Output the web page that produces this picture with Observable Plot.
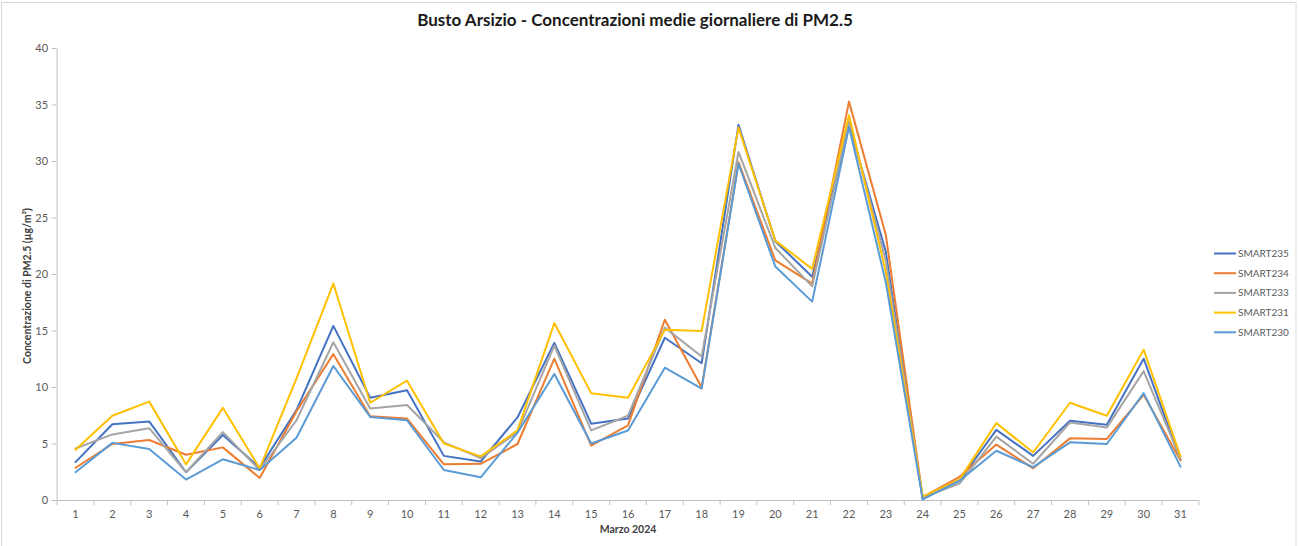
<!DOCTYPE html>
<html>
<head>
<meta charset="utf-8">
<script src="https://cdn.jsdelivr.net/npm/d3@7"></script>
<script src="https://cdn.jsdelivr.net/npm/@observablehq/plot@0.6"></script>
<style>
  body { margin: 0; background: #fff; }
  #chart { width: 1298px; height: 546px; }
</style>
</head>
<body>
<div id="chart"></div>
<script>
// Daily mean PM2.5 concentrations (µg/m³), March 2024, Busto Arsizio sensors
const days = d3.range(1, 32);
const smart235 = [3.4, 6.75, 7.0, 2.5, 5.8, 2.9, 8.0, 15.45, 9.1, 9.75, 3.95, 3.45, 7.35, 13.95, 6.8, 7.25, 14.4, 12.15, 33.25, 22.95, 19.8, 33.3, 22.0, 0.15, 1.75, 6.25, 3.95, 7.05, 6.7, 12.55, 3.6];
const smart234 = [2.9, 5.0, 5.35, 4.05, 4.7, 2.0, 7.9, 12.95, 7.45, 7.25, 3.2, 3.25, 5.0, 12.55, 4.85, 6.65, 16.0, 10.0, 29.95, 21.25, 19.2, 35.3, 23.5, 0.3, 2.1, 4.95, 2.85, 5.5, 5.45, 9.35, 3.55];
const smart233 = [4.6, 5.85, 6.4, 2.5, 6.05, 2.7, 7.1, 14.0, 8.15, 8.45, 5.15, 3.75, 6.05, 13.7, 6.2, 7.5, 15.3, 12.75, 30.85, 22.35, 18.95, 33.55, 21.2, 0.25, 1.5, 5.65, 3.25, 6.9, 6.45, 11.45, 3.7];
const smart231 = [4.5, 7.5, 8.75, 3.2, 8.2, 2.85, 10.8, 19.2, 8.65, 10.6, 5.05, 3.9, 6.2, 15.7, 9.5, 9.1, 15.1, 15.0, 33.0, 23.0, 20.5, 34.1, 20.2, 0.35, 1.85, 6.85, 4.25, 8.65, 7.5, 13.35, 3.9];
const smart230 = [2.5, 5.1, 4.55, 1.85, 3.65, 2.7, 5.55, 11.9, 7.4, 7.1, 2.7, 2.05, 6.0, 11.2, 5.05, 6.2, 11.75, 9.9, 29.8, 20.7, 17.6, 33.05, 19.3, 0.1, 1.75, 4.4, 2.95, 5.15, 5.0, 9.5, 3.0];

const seriesNames = ["SMART235", "SMART234", "SMART233", "SMART231", "SMART230"];
const seriesValues = [smart235, smart234, smart233, smart231, smart230];
const seriesColors = ["#4472C4", "#ED7D31", "#A5A5A5", "#FFC000", "#5B9BD5"];
const yTicks = [0, 5, 10, 15, 20, 25, 30, 35, 40];

const chartTitle = "Busto Arsizio - Concentrazioni medie giornaliere di PM2.5";
const xTitle = "Marzo 2024";
const yTitle = "Concentrazione di PM2.5 (µg/m³)";

// long-format table for the line mark
const rows = seriesNames.flatMap((name, i) =>
  days.map((day, j) => ({ day, value: seriesValues[i][j], series: name }))
);
// category boundaries carry the x tick marks
const boundaries = [days[0] - 0.5, ...days.map(d => d + 0.5)];

const font = "Lato, 'Open Sans', sans-serif";
const axisGray = "#bfbfbf";
const labelGray = "#595959";

const chart = Plot.plot({
  width: 1298,
  height: 546,
  marginLeft: 56.6,
  marginRight: 99.6,
  marginTop: 48,
  marginBottom: 46,
  style: { fontFamily: font, fontSize: "11px", background: "#fff", overflow: "visible" },
  x: { domain: [days[0] - 0.5, days[days.length - 1] + 0.5] },
  y: { domain: [0, 40] },
  color: { domain: seriesNames, range: seriesColors },
  marks: [
    Plot.axisY({ ticks: yTicks, tickSize: 5, tickPadding: 4, stroke: axisGray, fill: labelGray, label: null }),
    Plot.axisX({ ticks: boundaries, tickSize: 5, tickFormat: () => "", stroke: axisGray, label: null }),
    Plot.axisX({ ticks: days, tickSize: 0, tickPadding: 10, tickFormat: d => String(d), fill: labelGray, label: null }),
    Plot.ruleX([days[0] - 0.5], { y1: 0, y2: 40, stroke: axisGray }),
    Plot.ruleY([0], { stroke: axisGray }),
    Plot.line(rows, { x: "day", y: "value", z: "series", stroke: "series", strokeWidth: 2, strokeLinejoin: "round" }),
    Plot.text([xTitle], { frameAnchor: "bottom", dy: 32, fontWeight: "bold", fontSize: 10.5, fill: "#404040" })
  ]
});

document.getElementById("chart").appendChild(chart);

const svg = d3.select(chart);

// chart area outline
svg.insert("rect", ":first-child")
  .attr("x", 1.5).attr("y", 2.5)
  .attr("width", 1294.5).attr("height", 600)
  .attr("fill", "none").attr("stroke", "#d9d9d9");

// title
svg.append("text")
  .attr("x", 635).attr("y", 26)
  .attr("text-anchor", "middle")
  .attr("font-family", font).attr("font-weight", "bold").attr("font-size", 17)
  .attr("fill", "#1a1a1a")
  .text(chartTitle);

// y-axis title
svg.append("text")
  .attr("transform", "translate(27,286) rotate(-90)")
  .attr("text-anchor", "middle").attr("dy", "0.35em")
  .attr("font-family", font).attr("font-weight", "bold").attr("font-size", 10.5)
  .attr("fill", "#404040")
  .text(yTitle);

// legend
const legend = svg.append("g")
  .attr("font-family", font).attr("font-size", 10).attr("text-anchor", "start");
seriesNames.forEach((name, i) => {
  const y = 253.5 + i * 19.7;
  legend.append("line")
    .attr("x1", 1214).attr("x2", 1236).attr("y1", y).attr("y2", y)
    .attr("stroke", seriesColors[i]).attr("stroke-width", 2);
  legend.append("text")
    .attr("x", 1238).attr("y", y).attr("dy", "0.35em")
    .attr("fill", labelGray)
    .text(name);
});
</script>
</body>
</html>
